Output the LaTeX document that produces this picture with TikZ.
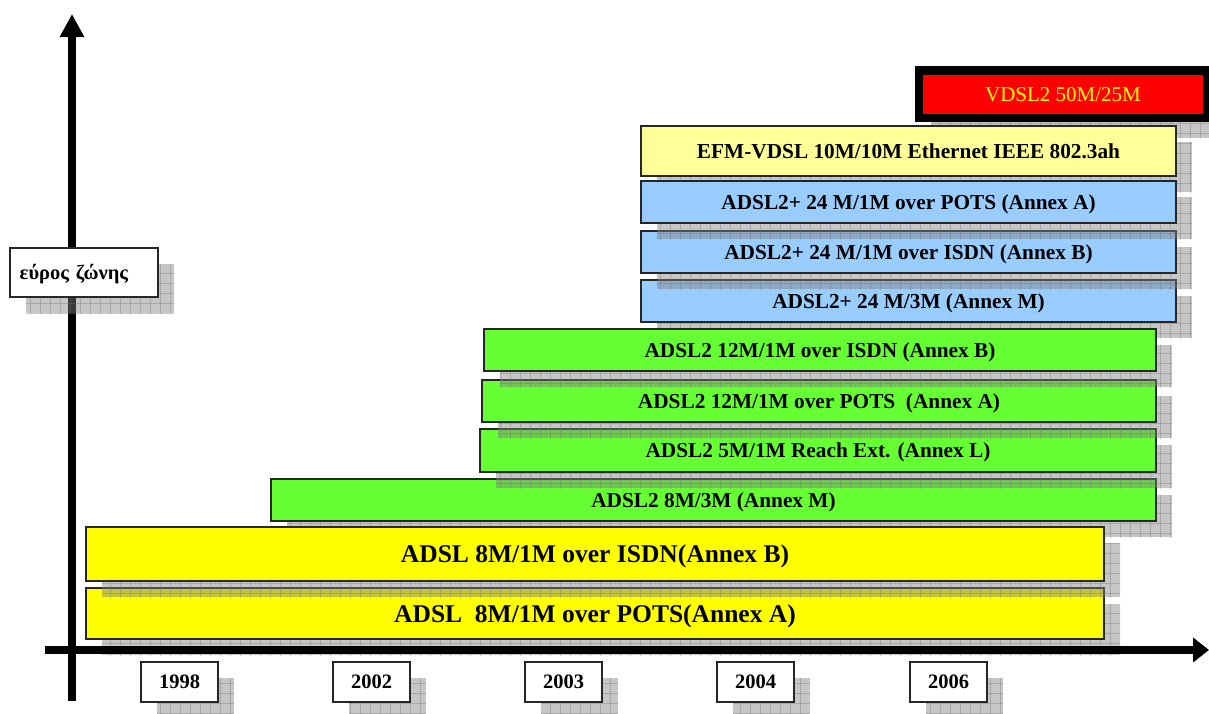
\documentclass[tikz,border=0pt]{standalone}
\usepackage{fontspec}
\setmainfont{Liberation Serif}
\usetikzlibrary{arrows.meta,shadows,patterns.meta}
\definecolor{adslY}{RGB}{255,255,0}
\definecolor{adsltwoG}{RGB}{102,255,51}
\definecolor{plusB}{RGB}{153,204,255}
\definecolor{efmY}{RGB}{255,255,153}
\definecolor{vdslR}{RGB}{255,0,0}
\tikzset{
  gshadow/.style={
    drop shadow={shadow xshift=16pt,shadow yshift=-16pt,fill=gray,opacity=0.45},
    drop shadow={shadow xshift=16pt,shadow yshift=-16pt,pattern={Lines[distance=10pt,line width=0.7pt]},pattern color=black!55,opacity=0.35},
    drop shadow={shadow xshift=16pt,shadow yshift=-16pt,pattern={Lines[distance=10pt,angle=90,line width=0.7pt]},pattern color=black!55,opacity=0.35}},
  bar/.style={draw=black!85,line width=1.8pt,inner sep=0pt,gshadow,text height=14pt,text depth=0pt,
    font=\bfseries\fontsize{21.3}{24}\selectfont},
  bigbar/.style={bar,fill=adslY,minimum width=1018pt,text height=17pt,font=\bfseries\fontsize{25.5}{28}\selectfont},
  greenbar/.style={bar,fill=adsltwoG,minimum height=42pt},
  bluebar/.style={bar,fill=plusB,minimum width=535pt,minimum height=42pt},
  yearbox/.style={draw=black!85,line width=1.5pt,fill=white,inner sep=0pt,gshadow,
    text height=13.5pt,text depth=0pt,
    minimum width=77pt,minimum height=40pt,font=\bfseries\fontsize{20.5}{22}\selectfont},
  axisline/.style={line width=8pt,draw=black},
}
\begin{document}
\begin{tikzpicture}[x=1pt,y=-1pt]
\useasboundingbox (0,0) rectangle (1209,713);
% vertical axis
\coordinate (ybase) at (72,701);
\coordinate (ytip) at (72,14);
\draw[axisline,-{Triangle[length=23pt,width=23pt]}] (ybase) -- (ytip);
% top group
\node[fill=black,minimum width=296pt,minimum height=56pt,inner sep=0pt,gshadow,
  text=adslY,font=\fontsize{21}{24}\selectfont,text height=14pt,text depth=0pt,
  path picture={\fill[vdslR] ([shift={(8pt,-9pt)}]path picture bounding box.north west) rectangle ([shift={(-8pt,8pt)}]path picture bounding box.south east);}]
  (vdsl) at (1063,94) {VDSL2 50M/25M};
\node[bar,fill=efmY,minimum width=535pt,minimum height=50pt] (efm) at (908.5,151) {EFM-VDSL 10M/10M Ethernet IEEE 802.3ah};
% blue group
\node[bluebar] (pm) at (908.5,301) {ADSL2+ 24 M/3M (Annex M)};
\node[bluebar] (pisdn) at (908.5,252) {ADSL2+ 24 M/1M over ISDN (Annex B)};
\node[bluebar] (ppots) at (908.5,202) {ADSL2+ 24 M/1M over POTS (Annex A)};
% green group
\node[greenbar,minimum width=885pt] (am) at (713.5,500) {ADSL2 8M/3M (Annex M)};
\node[greenbar,minimum width=676pt,minimum height=43pt] (al) at (818,450.5) {ADSL2 5M/1M Reach Ext. (Annex L)};
\node[greenbar,minimum width=674pt] (apots) at (819,401) {ADSL2 12M/1M over POTS\ \ (Annex A)};
\node[greenbar,minimum width=672pt] (aisdn) at (820,350) {ADSL2 12M/1M over ISDN (Annex B)};
% yellow group
\node[bigbar,minimum height=51pt] (opots) at (595,613.5) {ADSL\ \ 8M/1M over POTS(Annex A)};
\node[bigbar,minimum height=54pt] (oisdn) at (595,554) {ADSL 8M/1M over ISDN(Annex B)};
% bandwidth label
\node[draw=black!85,line width=1.5pt,fill=white,gshadow,anchor=west,minimum height=49pt,
  text width=128pt,inner xsep=10pt,inner ysep=0pt,align=left,text height=13pt,text depth=0pt,
  font=\bfseries\fontsize{20.5}{22}\selectfont] (bw) at (9,272.5) {εύρος ζώνης};
% horizontal axis
\coordinate (xbase) at (45,650);
\coordinate (xtip) at (1209,650);
\draw[axisline,-{Triangle[length=16pt,width=24pt]}] (xbase) -- (xtip);
% years
\node[yearbox] (y98) at (179.5,682) {1998};
\node[yearbox] (y02) at (371.5,682) {2002};
\node[yearbox] (y03) at (563.5,682) {2003};
\node[yearbox] (y04) at (755.5,682) {2004};
\node[yearbox] (y06) at (948.5,682) {2006};
\end{tikzpicture}
\end{document}
